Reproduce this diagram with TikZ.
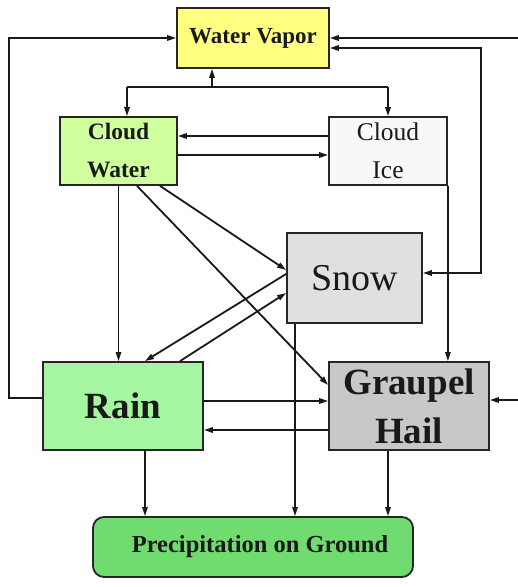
\documentclass[tikz,border=0pt]{standalone}
\usepackage{fontspec}
\setmainfont{Liberation Serif}
\usetikzlibrary{arrows.meta}
\definecolor{vapor}{RGB}{255,255,128}
\definecolor{cwater}{RGB}{208,255,160}
\definecolor{cice}{RGB}{248,248,248}
\definecolor{snowc}{RGB}{224,224,224}
\definecolor{rainc}{RGB}{166,245,160}
\definecolor{graup}{RGB}{200,200,200}
\definecolor{precip}{RGB}{112,220,112}
\tikzset{
  box/.style={draw=black!85, line width=1.8pt, inner sep=0pt, align=center, text=black!90},
  arr/.style={draw=black!90, line width=1.8pt, -{Triangle[length=9pt,width=5.5pt]}},
  thinarr/.style={draw=black!90, line width=1.3pt, -{Triangle[length=9pt,width=5.5pt]}},
  dblarr/.style={draw=black!90, line width=1.8pt, {Triangle[length=9pt,width=5.5pt]}-{Triangle[length=9pt,width=5.5pt]}},
  plain/.style={draw=black!90, line width=1.8pt}
}
\begin{document}
\begin{tikzpicture}[x=1pt,y=-1pt]
\useasboundingbox (0,0) rectangle (518,587);
% nodes
\node[box, fill=vapor, minimum width=152pt, minimum height=60pt,
      font=\fontsize{23}{26}\selectfont\bfseries] (wv) at (253,38) {Water Vapor};
\node[box, fill=cwater, minimum width=117pt, minimum height=68pt,
      font=\fontsize{23.5}{38}\selectfont\bfseries] (cw) at (118.5,151) {Cloud\\Water};
\node[box, fill=cice, minimum width=118pt, minimum height=68pt,
      font=\fontsize{25.5}{38}\selectfont] (ci) at (388,151) {Cloud\\Ice};
\node[box, fill=snowc, minimum width=135pt, minimum height=90pt,
      font=\fontsize{38}{44}\selectfont] (sn) at (354.5,278) {Snow};
\node[box, fill=rainc, minimum width=160pt, minimum height=88pt,
      font=\fontsize{37}{44}\selectfont\bfseries] (rn) at (123,406) {Rain};
\node[box, fill=graup, minimum width=160pt, minimum height=88pt,
      font=\fontsize{37}{49}\selectfont\bfseries] (gh) at (409,406) {Graupel\\Hail};
\node[box, fill=precip, rounded corners=11pt, minimum width=320pt, minimum height=60pt,
      font=\fontsize{24.5}{28}\selectfont\bfseries] (pg) at (253,547) {\hspace*{14pt}Precipitation on Ground};
% helper coordinates
\coordinate (j) at (212,87);
\coordinate (jl) at (127,87);
\coordinate (jr) at (388,87);
\coordinate (re1) at (519,38);
\coordinate (re2) at (519,400);
% outer loops
\draw[arr] ([yshift=8pt]rn.west) -- ++(-33,0) |- (wv.west);
\draw[arr] (re1) -- (wv.east);
\draw[arr] (re2) -- ([yshift=6pt]gh.east);
\draw[dblarr] ([yshift=-10pt]wv.east) -- ++(151,0) |- ([yshift=5pt]sn.east);
% vapor junction
\draw[plain] (jl) -- (jr);
\draw[arr] (j) -- (j |- wv.south);
\draw[arr] (jl) -- (jl |- cw.north);
\draw[arr] (jr) -- (ci.north);
% cloud water / ice
\draw[arr] ([yshift=15pt]ci.west) -- ([yshift=15pt]cw.east);
\draw[arr] ([yshift=-4pt]cw.east) -- ([yshift=-4pt]ci.west);
\draw[thinarr] (ci.south east) -- (ci.south east |- gh.north);
\draw[thinarr] (cw.south) -- (cw.south |- rn.north);
\draw[arr] ([xshift=41.5pt]cw.south) -- ([yshift=8pt]sn.west);
\draw[arr] ([xshift=18.5pt]cw.south) -- ([yshift=21pt]gh.west);
% snow / rain
\draw[arr] ([yshift=4pt]sn.west) -- ([xshift=22pt]rn.north);
\draw[arr] ([xshift=57pt]rn.north) -- ([yshift=-15pt]sn.west);
\draw[thinarr] ([xshift=-59.5pt]sn.south) -- ([xshift=-59.5pt]sn.south |- pg.north);
% rain / graupel
\draw[arr] ([yshift=5pt]rn.east) -- ([yshift=5pt]gh.west);
\draw[arr] ([yshift=-24pt]gh.east -| gh.west) -- ([yshift=-24pt]rn.east);
% to ground
\draw[thinarr] ([xshift=22pt]rn.south) -- ([xshift=22pt]rn.south |- pg.north);
\draw[thinarr] ([xshift=-21pt]gh.south) -- ([xshift=-21pt]gh.south |- pg.north);
\end{tikzpicture}
\end{document}
